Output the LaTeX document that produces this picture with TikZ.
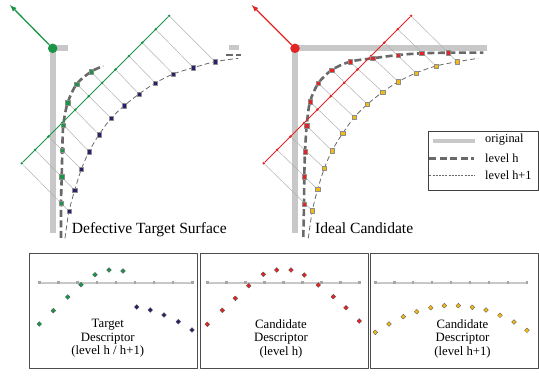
\documentclass[tikz,border=0pt]{standalone}
\usepackage{fontspec}
\setmainfont{Liberation Serif}
\usetikzlibrary{shapes.geometric}
\definecolor{ptgreen}{RGB}{28,148,72}
\definecolor{ptblue}{RGB}{38,34,110}
\definecolor{ptred}{RGB}{226,36,36}
\definecolor{ptyellow}{RGB}{242,186,18}
\definecolor{origgray}{RGB}{200,200,200}
\definecolor{levelgray}{RGB}{105,105,105}
\pgfdeclarelayer{back}
\pgfsetlayers{back,main}
\tikzset{
  orig/.style={origgray,line width=5.7bp,line join=miter},
  levelh/.style={levelgray,line width=2.6bp,dash pattern=on 7bp off 3.5bp},
  levelhh/.style={levelgray,line width=0.8bp,dash pattern=on 5bp off 3bp},
  ray/.style={black!30,line width=0.5bp},
  sqmark/.style={draw=black!45,line width=0.4bp,minimum size=4.2bp,inner sep=0pt},
  dimark/.style={diamond,draw=black!65,line width=0.3bp,minimum size=5bp,inner sep=0pt},
  smpdot/.style={circle,inner sep=0pt,minimum size=2.8bp},
  axdot/.style={fill=black!35,inner sep=0pt,minimum size=2.4bp},
  bigdot/.style={circle,inner sep=0pt,minimum size=9.5bp},
  titletext/.style={font=\fontsize{15.6}{18}\selectfont,anchor=base west,inner sep=0pt},
  desctext/.style={font=\fontsize{12.8}{13.6}\selectfont,align=center,inner sep=0pt},
  legtext/.style={font=\fontsize{12.4}{14}\selectfont,anchor=base west,inner sep=0pt},
}
\begin{document}
\begin{tikzpicture}[>=latex,line join=bevel,]
\useasboundingbox (0bp,0bp) rectangle (539bp,376bp);
%% defective target surface
\node (node_gc) at (52.7bp,327.7bp) [bigdot,fill=ptgreen] {};
  \coordinate (node_gtip) at (10bp,371bp);
  \node (node_g1) at (21.7bp,212.7bp) [smpdot,fill=ptgreen] {};
  \node (node_g2) at (35.1bp,226.1bp) [smpdot,fill=ptgreen] {};
  \node (node_g3) at (48.5bp,239.5bp) [smpdot,fill=ptgreen] {};
  \node (node_g4) at (61.9bp,252.9bp) [smpdot,fill=ptgreen] {};
  \node (node_g5) at (75.3bp,266.3bp) [smpdot,fill=ptgreen] {};
  \node (node_g6) at (88.7bp,279.7bp) [smpdot,fill=ptgreen] {};
  \node (node_g7) at (102.1bp,293.1bp) [smpdot,fill=ptgreen] {};
  \node (node_g8) at (115.5bp,306.5bp) [smpdot,fill=ptgreen] {};
  \node (node_g9) at (128.9bp,319.9bp) [smpdot,fill=ptgreen] {};
  \node (node_g10) at (142.3bp,333.3bp) [smpdot,fill=ptgreen] {};
  \node (node_g11) at (155.7bp,346.7bp) [smpdot,fill=ptgreen] {};
  \node (node_g12) at (169.1bp,360.1bp) [smpdot,fill=ptgreen] {};
  \node (node_gh1) at (61bp,172.7bp) [sqmark,fill=ptgreen] {};
  \node (node_gh2) at (61.7bp,199.3bp) [sqmark,fill=ptgreen] {};
  \node (node_gh3) at (62.3bp,226bp) [sqmark,fill=ptgreen] {};
  \node (node_gh4) at (63.3bp,251bp) [sqmark,fill=ptgreen] {};
  \node (node_gh5) at (67.7bp,273.3bp) [sqmark,fill=ptgreen] {};
  \node (node_gh6) at (76.7bp,292bp) [sqmark,fill=ptgreen] {};
  \node (node_gh7) at (91bp,304.3bp) [sqmark,fill=ptgreen] {};
  \node (node_gb1) at (69bp,164.7bp) [sqmark,fill=ptblue] {};
  \node (node_gb2) at (74.7bp,185.7bp) [sqmark,fill=ptblue] {};
  \node (node_gb3) at (81.3bp,206.7bp) [sqmark,fill=ptblue] {};
  \node (node_gb4) at (89bp,224.3bp) [sqmark,fill=ptblue] {};
  \node (node_gb5) at (99bp,241.3bp) [sqmark,fill=ptblue] {};
  \node (node_gb6) at (111bp,257.7bp) [sqmark,fill=ptblue] {};
  \node (node_gb7) at (124.3bp,270.3bp) [sqmark,fill=ptblue] {};
  \node (node_gb8) at (139bp,282bp) [sqmark,fill=ptblue] {};
  \node (node_gb9) at (155.3bp,293bp) [sqmark,fill=ptblue] {};
  \node (node_gb10) at (173.3bp,302bp) [sqmark,fill=ptblue] {};
  \node (node_gb11) at (193.3bp,308.3bp) [sqmark,fill=ptblue] {};
  \node (node_gb12) at (215bp,314.3bp) [sqmark,fill=ptblue] {};
  \node (node_tt) at (71.7bp,142.7bp) [titletext] {Defective Target Surface};
%
\draw [ptgreen,line width=1.3bp,->] (node_gc) -- (node_gtip);
\begin{pgfonlayer}{back}
  \draw [orig] (52.7bp,143bp) -- (52.7bp,327.7bp) -- (67.7bp,327.7bp);
  \draw [orig] (229bp,328.5bp) -- (239.3bp,328.5bp);
  \draw [levelh] plot [smooth] coordinates {(61bp,138bp) (node_gh1) (node_gh2) (node_gh3) (node_gh4) (node_gh5) (node_gh6) (node_gh7) (103.3bp,310bp)};
  \draw [levelh] (225.7bp,321bp) -- (240.7bp,321bp);
  \draw [levelhh] plot [smooth] coordinates {(65bp,137.7bp) (node_gb1) (node_gb2) (node_gb3) (node_gb4) (node_gb5) (node_gb6) (node_gb7) (node_gb8) (node_gb9) (node_gb10) (node_gb11) (node_gb12) (238.3bp,317.7bp)};
  \draw [ray] (node_g1) -- (node_gb1);
  \draw [ray] (node_g2) -- (node_gb2);
  \draw [ray] (node_g3) -- (node_gb3);
  \draw [ray] (node_g4) -- (node_gb4);
  \draw [ray] (node_gh5) -- (node_gb5);
  \draw [ray] (node_gh6) -- (node_gb6);
  \draw [ray] (node_gh7) -- (node_gb7);
  \draw [ray] (node_g8) -- (node_gb8);
  \draw [ray] (node_g9) -- (node_gb9);
  \draw [ray] (node_g10) -- (node_gb10);
  \draw [ray] (node_g11) -- (node_gb11);
  \draw [ray] (node_g12) -- (node_gb12);
  \draw [ptgreen,line width=0.8bp] (node_g1) -- (node_g12);
\end{pgfonlayer}
%% ideal candidate
\node (node_rc) at (295bp,327.7bp) [bigdot,fill=ptred] {};
  \coordinate (node_rtip) at (251.7bp,371bp);
  \node (node_r1) at (263.7bp,212.7bp) [smpdot,fill=ptred] {};
  \node (node_r2) at (277.1bp,226.1bp) [smpdot,fill=ptred] {};
  \node (node_r3) at (290.5bp,239.5bp) [smpdot,fill=ptred] {};
  \node (node_r4) at (303.9bp,252.9bp) [smpdot,fill=ptred] {};
  \node (node_r5) at (317.3bp,266.3bp) [smpdot,fill=ptred] {};
  \node (node_r6) at (330.7bp,279.7bp) [smpdot,fill=ptred] {};
  \node (node_r7) at (344.1bp,293.1bp) [smpdot,fill=ptred] {};
  \node (node_r8) at (357.5bp,306.5bp) [smpdot,fill=ptred] {};
  \node (node_r9) at (370.9bp,319.9bp) [smpdot,fill=ptred] {};
  \node (node_r10) at (384.3bp,333.3bp) [smpdot,fill=ptred] {};
  \node (node_r11) at (397.7bp,346.7bp) [smpdot,fill=ptred] {};
  \node (node_r12) at (411.1bp,360.1bp) [smpdot,fill=ptred] {};
  \node (node_rh1) at (304bp,172bp) [sqmark,fill=ptred] {};
  \node (node_rh2) at (304.3bp,199.3bp) [sqmark,fill=ptred] {};
  \node (node_rh3) at (305bp,224.3bp) [sqmark,fill=ptred] {};
  \node (node_rh4) at (306.7bp,250.3bp) [sqmark,fill=ptred] {};
  \node (node_rh5) at (310bp,274.3bp) [sqmark,fill=ptred] {};
  \node (node_rh6) at (318.3bp,292.7bp) [sqmark,fill=ptred] {};
  \node (node_rh7) at (331.7bp,306bp) [sqmark,fill=ptred] {};
  \node (node_rh8) at (350bp,314.3bp) [sqmark,fill=ptred] {};
  \node (node_rh9) at (372.7bp,317.7bp) [sqmark,fill=ptred] {};
  \node (node_rh10) at (398.3bp,321bp) [sqmark,fill=ptred] {};
  \node (node_rh11) at (421.7bp,322.7bp) [sqmark,fill=ptred] {};
  \node (node_rh12) at (448.3bp,323.3bp) [sqmark,fill=ptred] {};
  \node (node_ry1) at (312.3bp,165.3bp) [sqmark,fill=ptyellow] {};
  \node (node_ry2) at (317.7bp,186.7bp) [sqmark,fill=ptyellow] {};
  \node (node_ry3) at (324.3bp,207.7bp) [sqmark,fill=ptyellow] {};
  \node (node_ry4) at (332bp,225.3bp) [sqmark,fill=ptyellow] {};
  \node (node_ry5) at (342.7bp,242.7bp) [sqmark,fill=ptyellow] {};
  \node (node_ry6) at (354.3bp,258.7bp) [sqmark,fill=ptyellow] {};
  \node (node_ry7) at (367.3bp,271.7bp) [sqmark,fill=ptyellow] {};
  \node (node_ry8) at (382.7bp,284bp) [sqmark,fill=ptyellow] {};
  \node (node_ry9) at (398.3bp,294.3bp) [sqmark,fill=ptyellow] {};
  \node (node_ry10) at (416bp,303bp) [sqmark,fill=ptyellow] {};
  \node (node_ry11) at (436bp,310bp) [sqmark,fill=ptyellow] {};
  \node (node_ry12) at (457.3bp,314.3bp) [sqmark,fill=ptyellow] {};
  \node (node_it) at (315bp,142.7bp) [titletext] {Ideal Candidate};
%
\draw [ptred,line width=1.3bp,->] (node_rc) -- (node_rtip);
\begin{pgfonlayer}{back}
  \draw [orig] (295bp,143bp) -- (295bp,327.7bp) -- (486.7bp,327.7bp);
  \draw [levelh] plot [smooth] coordinates {(303.3bp,139bp) (node_rh1) (node_rh2) (node_rh3) (node_rh4) (node_rh5) (node_rh6) (node_rh7) (node_rh8) (node_rh9) (node_rh10) (node_rh11) (node_rh12) (483.3bp,323.3bp)};
  \draw [levelhh] plot [smooth] coordinates {(308.3bp,137.7bp) (node_ry1) (node_ry2) (node_ry3) (node_ry4) (node_ry5) (node_ry6) (node_ry7) (node_ry8) (node_ry9) (node_ry10) (node_ry11) (node_ry12) (478.3bp,317.7bp)};
  \draw [ray] (node_r1) -- (node_ry1);
  \draw [ray] (node_r2) -- (node_ry2);
  \draw [ray] (node_r3) -- (node_ry3);
  \draw [ray] (node_r4) -- (node_ry4);
  \draw [ray] (node_rh5) -- (node_ry5);
  \draw [ray] (node_rh6) -- (node_ry6);
  \draw [ray] (node_rh7) -- (node_ry7);
  \draw [ray] (node_rh8) -- (node_ry8);
  \draw [ray] (node_r9) -- (node_ry9);
  \draw [ray] (node_r10) -- (node_ry10);
  \draw [ray] (node_r11) -- (node_ry11);
  \draw [ray] (node_r12) -- (node_ry12);
  \draw [ptred,line width=0.8bp] (node_r1) -- (node_r12);
\end{pgfonlayer}
%% legend
\draw [black!75,line width=0.8bp] (428.7bp,185.3bp) rectangle (538.3bp,244.3bp);
  \draw [origgray,line width=4.5bp] (433.3bp,235bp) -- (475bp,235bp);
  \draw [levelh] (429.3bp,217.3bp) -- (474.3bp,217.3bp);
  \draw [levelhh,dash pattern=on 2bp off 1.2bp] (429.3bp,201bp) -- (474.3bp,201bp);
  \node (node_lo) at (485bp,233.7bp) [legtext] {original};
  \node (node_lh) at (485bp,213.7bp) [legtext] {level h};
  \node (node_lhh) at (485bp,196.7bp) [legtext] {level h+1};
%% target descriptor
\draw [black!70,line width=1bp] (29.3bp,7bp) rectangle (197.7bp,122.7bp);
  \node (node_a1) at (39.3bp,93.3bp) [axdot] {};
  \node (node_a2) at (58.4bp,93.3bp) [axdot] {};
  \node (node_a3) at (77.5bp,93.3bp) [axdot] {};
  \node (node_a4) at (96.7bp,93.3bp) [axdot] {};
  \node (node_a5) at (115.8bp,93.3bp) [axdot] {};
  \node (node_a6) at (134.9bp,93.3bp) [axdot] {};
  \node (node_a7) at (154.1bp,93.3bp) [axdot] {};
  \node (node_a8) at (173.2bp,93.3bp) [axdot] {};
  \node (node_a9) at (192.3bp,93.3bp) [axdot] {};
  \node (node_dg1) at (39.3bp,52bp) [dimark,fill=ptgreen] {};
  \node (node_dg2) at (53.3bp,65.3bp) [dimark,fill=ptgreen] {};
  \node (node_dg3) at (67.7bp,79bp) [dimark,fill=ptgreen] {};
  \node (node_dg4) at (81bp,91.3bp) [dimark,fill=ptgreen] {};
  \node (node_dg5) at (95bp,101.3bp) [dimark,fill=ptgreen] {};
  \node (node_dg6) at (109bp,106bp) [dimark,fill=ptgreen] {};
  \node (node_dg7) at (123bp,105bp) [dimark,fill=ptgreen] {};
  \node (node_db1) at (136.7bp,69bp) [dimark,fill=ptblue] {};
  \node (node_db2) at (150.3bp,66bp) [dimark,fill=ptblue] {};
  \node (node_db3) at (164bp,61bp) [dimark,fill=ptblue] {};
  \node (node_db4) at (178.3bp,54.3bp) [dimark,fill=ptblue] {};
  \node (node_db5) at (192bp,46bp) [dimark,fill=ptblue] {};
  \node (node_td) at (107.8bp,37.5bp) [desctext] {Target\\Descriptor\\(level h / h+1)};
  \begin{pgfonlayer}{back}
  \draw [origgray,line width=2bp] (node_a1) -- (node_a9);
  \end{pgfonlayer}
%% candidate descriptor, level h
\draw [black!70,line width=1bp] (200bp,7bp) rectangle (368.3bp,122.7bp);
  \node (node_b1) at (207.3bp,93.3bp) [axdot] {};
  \node (node_b2) at (226.3bp,93.3bp) [axdot] {};
  \node (node_b3) at (245.3bp,93.3bp) [axdot] {};
  \node (node_b4) at (264.3bp,93.3bp) [axdot] {};
  \node (node_b5) at (283.3bp,93.3bp) [axdot] {};
  \node (node_b6) at (302.3bp,93.3bp) [axdot] {};
  \node (node_b7) at (321.3bp,93.3bp) [axdot] {};
  \node (node_b8) at (340.3bp,93.3bp) [axdot] {};
  \node (node_b9) at (359.3bp,93.3bp) [axdot] {};
  \node (node_dr1) at (207.3bp,51.7bp) [dimark,fill=ptred] {};
  \node (node_dr2) at (222.3bp,65.7bp) [dimark,fill=ptred] {};
  \node (node_dr3) at (235.3bp,77.7bp) [dimark,fill=ptred] {};
  \node (node_dr4) at (248.7bp,90.3bp) [dimark,fill=ptred] {};
  \node (node_dr5) at (263.3bp,101.7bp) [dimark,fill=ptred] {};
  \node (node_dr6) at (276.7bp,106bp) [dimark,fill=ptred] {};
  \node (node_dr7) at (291bp,106bp) [dimark,fill=ptred] {};
  \node (node_dr8) at (304.3bp,101bp) [dimark,fill=ptred] {};
  \node (node_dr9) at (318.3bp,91bp) [dimark,fill=ptred] {};
  \node (node_dr10) at (333.3bp,79.3bp) [dimark,fill=ptred] {};
  \node (node_dr11) at (346bp,68.3bp) [dimark,fill=ptred] {};
  \node (node_dr12) at (359.3bp,55bp) [dimark,fill=ptred] {};
  \node (node_cd) at (281bp,37.5bp) [desctext] {Candidate\\Descriptor\\(level h)};
  \begin{pgfonlayer}{back}
  \draw [origgray,line width=2bp] (node_b1) -- (node_b9);
  \end{pgfonlayer}
%% candidate descriptor, level h+1
\draw [black!70,line width=1bp] (370.7bp,7bp) rectangle (538.3bp,122.7bp);
  \node (node_c1) at (375.3bp,93.3bp) [axdot] {};
  \node (node_c2) at (394.3bp,93.3bp) [axdot] {};
  \node (node_c3) at (413.2bp,93.3bp) [axdot] {};
  \node (node_c4) at (432.2bp,93.3bp) [axdot] {};
  \node (node_c5) at (451.2bp,93.3bp) [axdot] {};
  \node (node_c6) at (470.1bp,93.3bp) [axdot] {};
  \node (node_c7) at (489.1bp,93.3bp) [axdot] {};
  \node (node_c8) at (508.1bp,93.3bp) [axdot] {};
  \node (node_c9) at (527bp,93.3bp) [axdot] {};
  \node (node_dy1) at (375.3bp,43.7bp) [dimark,fill=ptyellow] {};
  \node (node_dy2) at (389bp,52bp) [dimark,fill=ptyellow] {};
  \node (node_dy3) at (403.3bp,59.3bp) [dimark,fill=ptyellow] {};
  \node (node_dy4) at (416.7bp,64.3bp) [dimark,fill=ptyellow] {};
  \node (node_dy5) at (430.7bp,68.3bp) [dimark,fill=ptyellow] {};
  \node (node_dy6) at (444.3bp,70.3bp) [dimark,fill=ptyellow] {};
  \node (node_dy7) at (458.3bp,70.3bp) [dimark,fill=ptyellow] {};
  \node (node_dy8) at (472.3bp,68.7bp) [dimark,fill=ptyellow] {};
  \node (node_dy9) at (486bp,66bp) [dimark,fill=ptyellow] {};
  \node (node_dy10) at (500bp,60.7bp) [dimark,fill=ptyellow] {};
  \node (node_dy11) at (514bp,54bp) [dimark,fill=ptyellow] {};
  \node (node_dy12) at (527bp,45.7bp) [dimark,fill=ptyellow] {};
  \node (node_cdd) at (462.5bp,37.5bp) [desctext] {Candidate\\Descriptor\\(level h+1)};
  \begin{pgfonlayer}{back}
  \draw [origgray,line width=2bp] (node_c1) -- (node_c9);
  \end{pgfonlayer}
%
\end{tikzpicture}
\end{document}
